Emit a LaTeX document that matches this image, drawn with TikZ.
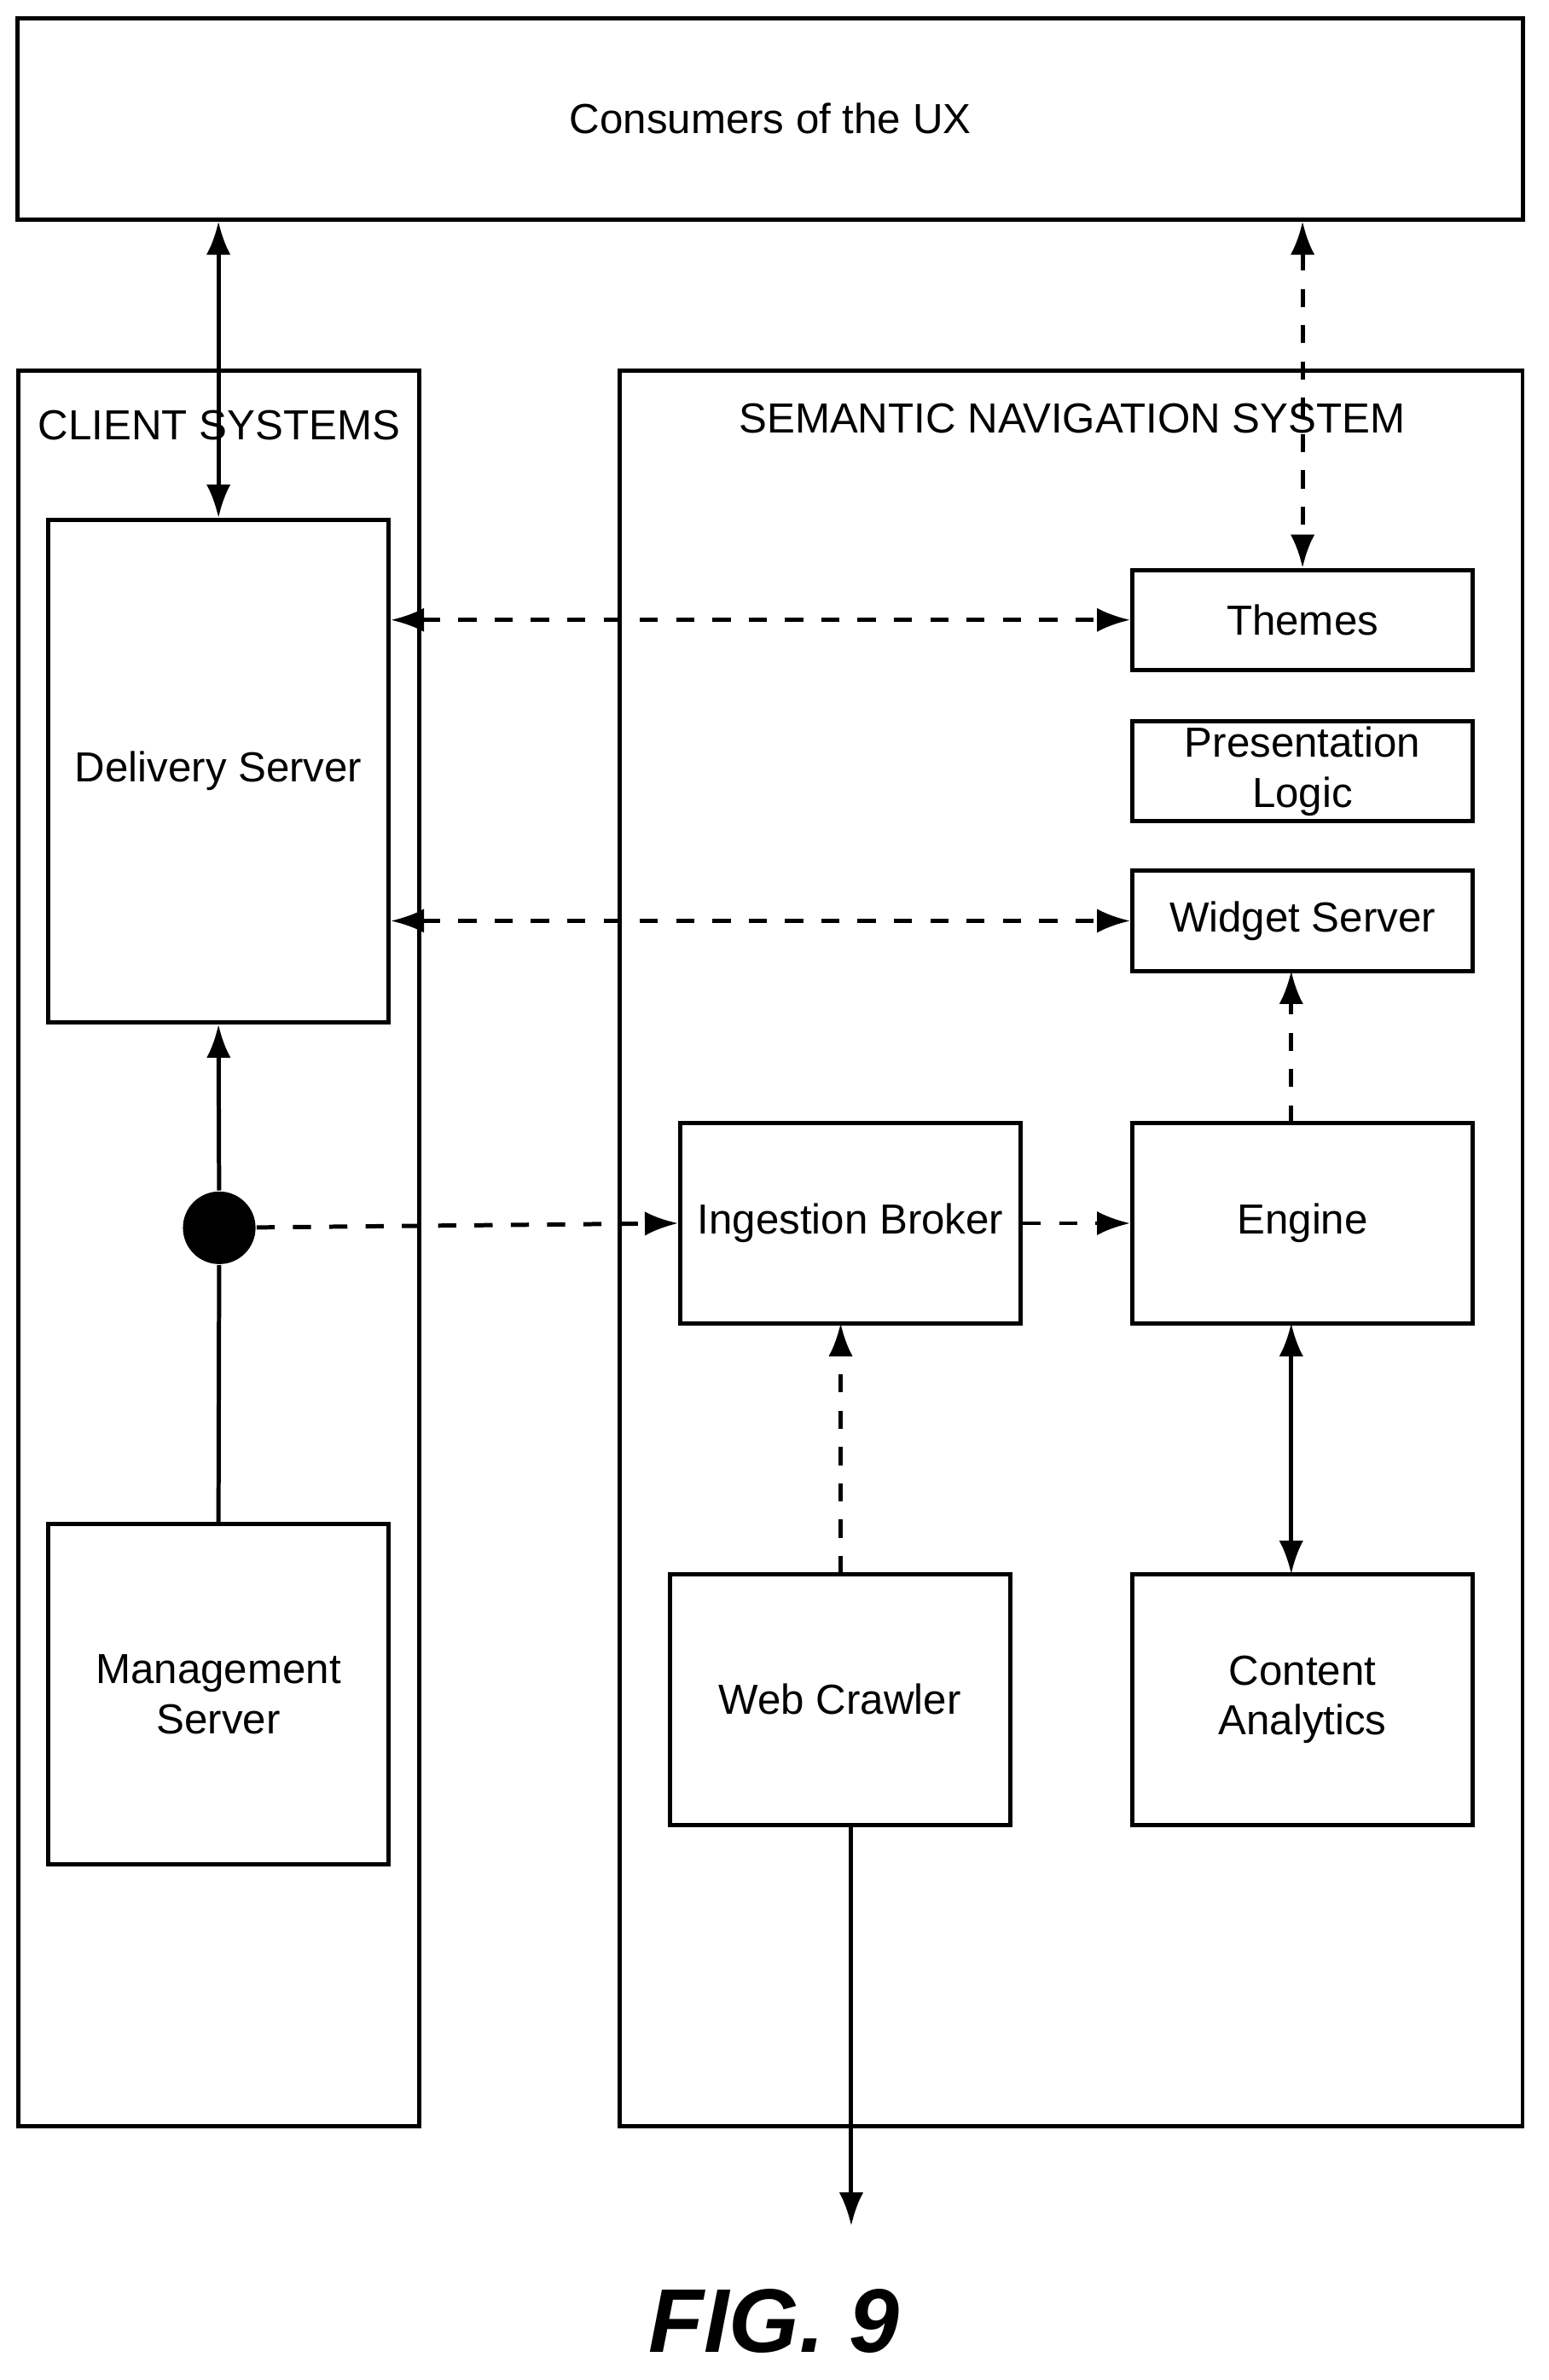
\documentclass[tikz,border=0pt]{standalone}
\usepackage{fontspec}
\setmainfont{Liberation Sans}
\usetikzlibrary{arrows.meta}
\tikzset{
  blk/.style={draw, thick, align=center, inner sep=0pt},
  con/.style={thick, -{Latex[length=2.2mm,width=1.6mm]}},
  dbl/.style={thick, {Latex[length=2.2mm,width=1.6mm]}-{Latex[length=2.2mm,width=1.6mm]}},
  dsh/.style={dash pattern=on 1.2mm off 1.2mm},
}
\begin{document}
\begin{tikzpicture}[x=0.01cm, y=-0.01cm, font=\fontsize{7.9}{9.4}\selectfont]
\useasboundingbox (0,0) rectangle (1024,1574);
\node[blk, minimum width=9.95cm, minimum height=1.33cm] (ux) at (509.5,78.5){Consumers of the UX};
\draw[thick] (12,245) rectangle (277,1406);
\node (cs) at (145,281){CLIENT SYSTEMS};
\draw[thick] (410,245) rectangle (1007,1406);
\node (sns) at (709,277){SEMANTIC NAVIGATION SYSTEM};
\node[blk, minimum width=2.25cm, minimum height=3.32cm] (ds) at (144.5,510){Delivery Server};
\node[blk, minimum width=2.25cm, minimum height=2.25cm] (ms) at (144.5,1120.5){Management\\Server};
\node[blk, minimum width=2.25cm, minimum height=0.66cm] (th) at (861.5,410){Themes};
\node[blk, minimum width=2.25cm, minimum height=0.66cm] (pl) at (861.5,510){Presentation\\Logic};
\node[blk, minimum width=2.25cm, minimum height=0.66cm] (ws) at (861.5,609){Widget Server};
\node[blk, minimum width=2.25cm, minimum height=1.32cm] (ib) at (562.5,809){Ingestion Broker};
\node[blk, minimum width=2.25cm, minimum height=1.32cm] (en) at (861.5,809){Engine};
\node[blk, minimum width=2.25cm, minimum height=1.66cm] (wc) at (555.5,1124){Web Crawler};
\node[blk, minimum width=2.25cm, minimum height=1.66cm] (ca) at (861.5,1124){Content\\Analytics};
\node[circle, fill=black, minimum size=0.48cm, inner sep=0pt] (dot) at (145,812){};
\coordinate (out) at (563,1472);

\draw[dbl] (ux.south -| ds) -- (ds.north);
\draw[dbl, dsh] (ux.south -| th) -- (th.north);
\draw[dbl, dsh] (ds.east |- th) -- (th.west);
\draw[dbl, dsh] (ds.east |- ws) -- (ws.west);
\draw[thick] (ms.north) -- (dot);
\draw[con] (dot) -- (ds.south);
\draw[con, dsh] (dot) -- (ib.west);
\draw[con, dsh] (ib) -- (en);
\draw[con, dsh] (854,743) -- (854,642);
\draw[con, dsh] (556,1041) -- (556,875);
\draw[dbl] (854,875) -- (854,1041);
\draw[con] (wc.south -| out) -- (out);
\node (fig) at (512,1535){\fontsize{17}{20}\selectfont\bfseries\itshape FIG. 9};
\end{tikzpicture}
\end{document}
